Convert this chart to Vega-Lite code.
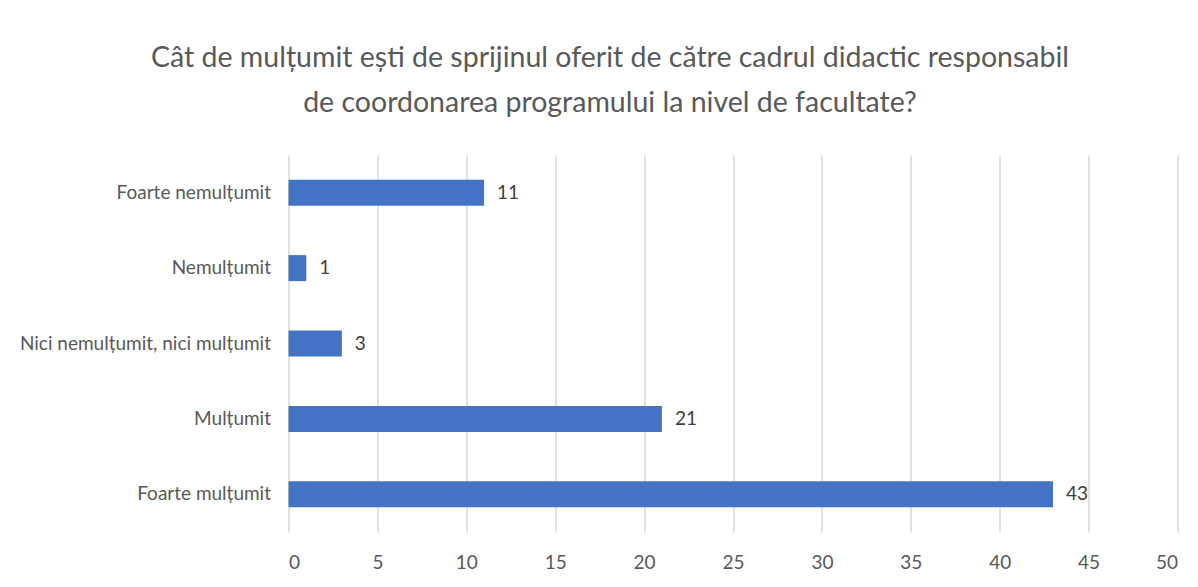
{
  "$schema": "https://vega.github.io/schema/vega-lite/v6.json",
  "width": 889,
  "height": 377,
  "autosize": {"type": "none"},
  "padding": {"left": 288.5, "top": 155, "right": 20.5, "bottom": 55},
  "background": "white",
  "title": {
    "text": ["Cât de mulțumit ești de sprijinul oferit de către cadrul didactic responsabil", "de coordonarea programului la nivel de facultate?"],
    "anchor": "middle",
    "frame": "group",
    "dx": -123,
    "offset": 38,
    "font": "Lato",
    "fontSize": 28.5,
    "fontWeight": "normal",
    "color": "#595959",
    "lineHeight": 45
  },
  "data": {
    "values": [
      {"category": "Foarte nemulțumit", "count": 11},
      {"category": "Nemulțumit", "count": 1},
      {"category": "Nici nemulțumit, nici mulțumit", "count": 3},
      {"category": "Mulțumit", "count": 21},
      {"category": "Foarte mulțumit", "count": 43}
    ]
  },
  "encoding": {
    "y": {
      "field": "category",
      "type": "nominal",
      "sort": null,
      "scale": {"paddingInner": 0.655, "paddingOuter": 0.3275},
      "axis": {
        "title": null,
        "ticks": false,
        "domain": false,
        "labelPadding": 18,
        "labelFont": "Lato",
        "labelFontSize": 19,
        "labelColor": "#595959",
        "labelLimit": 300
      }
    },
    "x": {
      "field": "count",
      "type": "quantitative",
      "scale": {"domain": [0, 50], "nice": false},
      "axis": {
        "title": null,
        "values": [0, 5, 10, 15, 20, 25, 30, 35, 40, 45, 50],
        "ticks": false,
        "domain": false,
        "grid": true,
        "gridColor": "#d9d9d9",
        "gridWidth": 1.5,
        "labelPadding": 21,
        "labelFont": "Lato",
        "labelFontSize": 19,
        "labelColor": "#595959"
      }
    }
  },
  "layer": [
    {"mark": {"type": "bar", "color": "#4472C4"}},
    {
      "mark": {"type": "text", "align": "left", "baseline": "middle", "dx": 13, "font": "Lato", "fontSize": 19, "color": "#404040"},
      "encoding": {"text": {"field": "count", "type": "quantitative"}}
    }
  ],
  "config": {"view": {"stroke": null}}
}
